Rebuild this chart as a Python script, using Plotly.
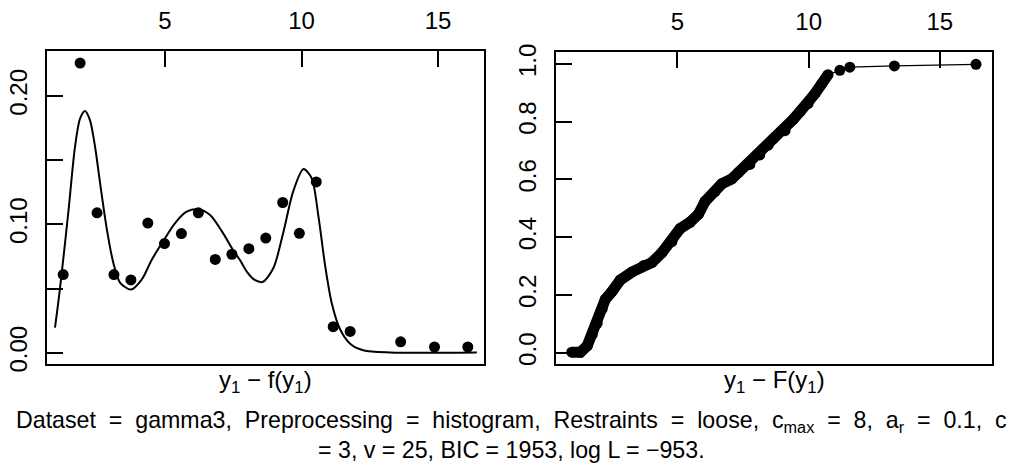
import plotly.graph_objects as go

# ---------------- data ----------------
# left panel: histogram-based empirical density (points)
hist_x = [1.27, 1.89, 2.51, 3.13, 3.75, 4.37, 4.98, 5.60, 6.22, 6.84, 7.45,
          8.07, 8.69, 9.31, 9.92, 10.54, 11.16, 11.78, 13.63, 14.87, 16.09]
hist_y = [0.0609, 0.2256, 0.109, 0.0609, 0.0567, 0.101, 0.0850, 0.0928, 0.109,
          0.0727, 0.0767, 0.081, 0.0893, 0.117, 0.0930, 0.133, 0.0203, 0.0166,
          0.0085, 0.0045, 0.0045]

# left panel: fitted mixture density (curve)
dens_x = [0.97, 1.15, 1.46, 1.70, 1.89, 2.07, 2.25, 2.44, 2.62, 2.86, 3.11,
          3.35, 3.76, 4.15, 4.51, 4.94, 5.37, 5.79, 6.22, 6.65, 7.08, 7.50,
          7.75, 8.00, 8.30, 8.58, 8.97, 9.33, 9.70, 10.07, 10.37, 10.62,
          10.86, 11.11, 11.41, 11.78, 12.26, 13.24, 16.42]
dens_y = [0.0196, 0.0496, 0.1098, 0.160, 0.1825, 0.1883, 0.1812, 0.160,
          0.1323, 0.0973, 0.0697, 0.0547, 0.0492, 0.0571, 0.0722, 0.0872,
          0.101, 0.1098, 0.1118, 0.1073, 0.0947, 0.0797, 0.072, 0.063,
          0.0565, 0.0552, 0.066, 0.0935, 0.126, 0.1431, 0.136, 0.106,
          0.0684, 0.0383, 0.0183, 0.0071, 0.002, 0.0003, 0.0003]

# right panel: empirical CDF (points)
ecdf_x = [0.97, 1.30, 1.56, 1.75, 1.94, 2.13, 2.25, 2.51, 2.82, 3.27, 3.71,
          4.03, 4.41, 4.79, 5.10, 5.48, 5.80, 6.05, 6.43, 6.69, 7.07, 7.32,
          7.76, 8.14, 8.46, 8.65, 9.10, 9.41, 9.67, 9.98, 10.24, 10.49,
          10.74, 11.19, 11.57, 13.27, 16.38]
ecdf_y = [0.002, 0.002, 0.024, 0.063, 0.102, 0.152, 0.185, 0.213, 0.252,
          0.280, 0.302, 0.313, 0.347, 0.385, 0.430, 0.452, 0.480, 0.524,
          0.558, 0.585, 0.602, 0.624, 0.652, 0.685, 0.719, 0.741, 0.769,
          0.808, 0.835, 0.863, 0.897, 0.930, 0.963, 0.978, 0.989, 0.9933,
          0.9987]
n_dense = 33  # points up to x = 10.74 form the dense band

x_ticks = [5, 10, 15]
left_y_ticks = [0.00, 0.05, 0.10, 0.15, 0.20]
left_y_text = ["0.00", "", "0.10", "", "0.20"]
right_y_ticks = [0.0, 0.2, 0.4, 0.6, 0.8, 1.0]
right_y_text = ["0.0", "0.2", "0.4", "0.6", "0.8", "1.0"]

# caption (first line is justified in the reference -> widened spaces)
SP = "\u2007"
caption_line1 = SP.join(["Dataset", "=", "gamma3,", "Preprocessing", "=", "histogram,",
                         "Restraints", "=", "loose,", "c<sub>max</sub>", "=", "8,",
                         "a<sub>r</sub>", "=", "0.1,", "c"])
caption_line2 = "= 3, v = 25, BIC = 1953, log L = \u2212953."

# ---------------- figure ----------------
W, H = 1023, 466
FONT = "Liberation Sans, Arial, Helvetica, sans-serif"
FS_TICK = 24
FS_TITLE = 24
FS_CAP = 23.2

fig = go.Figure()

fig.add_trace(go.Scatter(x=dens_x, y=dens_y, mode="lines",
                         line=dict(color="black", width=2, shape="spline", smoothing=0.8),
                         xaxis="x", yaxis="y", showlegend=False))
fig.add_trace(go.Scatter(x=hist_x, y=hist_y, mode="markers",
                         marker=dict(color="black", size=11),
                         xaxis="x", yaxis="y", showlegend=False))

fig.add_trace(go.Scatter(x=ecdf_x, y=ecdf_y, mode="lines",
                         line=dict(color="black", width=1.2),
                         xaxis="x2", yaxis="y2", showlegend=False))
fig.add_trace(go.Scatter(x=ecdf_x[:n_dense], y=ecdf_y[:n_dense], mode="lines",
                         line=dict(color="black", width=11),
                         xaxis="x2", yaxis="y2", showlegend=False))
fig.add_trace(go.Scatter(x=ecdf_x, y=ecdf_y, mode="markers",
                         marker=dict(color="black", size=11),
                         xaxis="x2", yaxis="y2", showlegend=False))

def px_dom(a, b, total):
    return [a / total, b / total]

def ydom(top, bottom):
    return [(H - bottom) / H, (H - top) / H]

common = dict(showgrid=False, zeroline=False, showline=True, linecolor="black",
              linewidth=1.5, mirror=True, ticks="inside", ticklen=16,
              tickwidth=1.5, tickcolor="black",
              tickfont=dict(family=FONT, size=FS_TICK, color="black"))

fig.update_layout(
    width=W, height=H,
    margin=dict(l=0, r=0, t=0, b=0),
    paper_bgcolor="white", plot_bgcolor="white",
    font=dict(family=FONT, size=FS_TICK, color="black"),
    xaxis=dict(domain=px_dom(47, 484, W), range=[0.677, 16.683], side="top",
               tickvals=x_ticks, ticktext=[str(v) for v in x_ticks],
               anchor="y", ticklabelstandoff=11, **common),
    yaxis=dict(domain=ydom(45, 369), range=[-0.009, 0.2346],
               tickvals=left_y_ticks, ticktext=left_y_text, tickangle=-90,
               anchor="x", ticklabelstandoff=9, **common),
    xaxis2=dict(domain=px_dom(556, 992, W), range=[0.37, 16.99], side="top",
                tickvals=x_ticks, ticktext=[str(v) for v in x_ticks],
                anchor="y2", ticklabelstandoff=11, **common),
    yaxis2=dict(domain=ydom(46, 369), range=[-0.04, 1.04],
                tickvals=right_y_ticks, ticktext=right_y_text, tickangle=-90,
                anchor="x2", ticklabelstandoff=9, **common),
)

fig.add_annotation(text="y<sub>1</sub> \u2212 f(y<sub>1</sub>)", xref="paper", yref="paper",
                   x=265.5 / W, y=(H - 387) / H, showarrow=False,
                   xanchor="center", yanchor="middle",
                   font=dict(family=FONT, size=FS_TITLE, color="black"))
fig.add_annotation(text="y<sub>1</sub> \u2212 F(y<sub>1</sub>)", xref="paper", yref="paper",
                   x=774 / W, y=(H - 387) / H, showarrow=False,
                   xanchor="center", yanchor="middle",
                   font=dict(family=FONT, size=FS_TITLE, color="black"))
fig.add_annotation(text=caption_line1 + "<br>" + caption_line2, xref="paper", yref="paper",
                   x=511.5 / W, y=(H - 442) / H, showarrow=False,
                   xanchor="center", yanchor="middle", align="center",
                   font=dict(family=FONT, size=FS_CAP, color="black"))

fig.write_html("out.html")
